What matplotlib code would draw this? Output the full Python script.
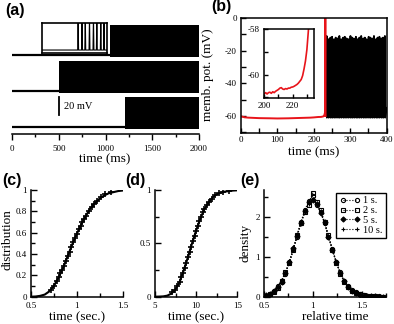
import numpy as np
import matplotlib
matplotlib.use("Agg")
import matplotlib.pyplot as plt
from matplotlib.ticker import MultipleLocator, FixedLocator, FuncFormatter

plt.rcParams['font.family'] = ['Liberation Serif', 'DejaVu Serif']
plt.rcParams['axes.unicode_minus'] = False
plt.rcParams['axes.linewidth'] = 1.1

W, H = 394, 324

# ---- (a) three voltage traces, stacked ----
a_onsets = [1050, 500, 1210]      # ms, start of repetitive firing
a_offsets = [80, 40, 0]           # mV, vertical shift of each trace
a_rest = -62                      # mV
a_top = 33                        # spike tops, mV above rest
a_bottom = -2                     # troughs, mV below rest
a_tmax = 2000
a_xticks = [0, 500, 1000, 1500, 2000]
# zoomed transition shown in the box over trace 1 (box units 0..100)
a_inset_spikes = [56, 62, 67, 73.5, 79.6, 84.8, 90.9, 95.9]
a_inset_rest = 0.1

# ---- (b) membrane potential ----
b_red_t = [0, 10, 20, 50, 80, 100, 130, 160, 190, 200, 212, 220, 226, 228.5, 230.5, 231.5, 232.2]
b_red_v = [-60.2, -60.8, -61.0, -61.3, -61.4, -61.5, -61.4, -61.2, -61.0, -60.85, -60.6,
           -60.55, -60.24, -59.65, -58.0, 0.0, -60.0]
b_spike_t = [235, 240, 245.5, 250, 255, 260, 265.5, 270, 275, 280.5, 285, 290, 295, 300.5,
             305, 310, 315.5, 320, 325, 330, 335.5, 340, 345, 350.5, 355, 360, 365, 370.5,
             375, 380, 385.5, 390, 395]
b_spike_peak = [-11, -13, -12, -11.5, -13, -12, -12.5, -11, -13, -12, -11.5, -12.5, -13, -11,
                -12, -12.5, -11.5, -13, -12, -11, -12.5, -12, -13, -11.5, -12, -12.5, -11, -13,
                -12, -11.5, -12.5, -12, -11]
b_trough = -61
b_reset = -52
# inset: slow depolarisation before the first spike
b_in_t = [200, 201, 202, 203, 204, 205, 206, 207, 208, 209, 210, 211, 212, 213, 214, 215, 216,
          217, 218, 219, 220, 221, 222, 223, 224, 225, 226, 227, 228, 229, 230, 231, 232]
b_in_v = [-60.85, -60.8, -60.86, -60.8, -60.78, -60.83, -60.76, -60.8, -60.74, -60.7, -60.66,
          -60.6, -60.58, -60.64, -60.66, -60.62, -60.64, -60.6, -60.6, -60.56, -60.55, -60.52,
          -60.48, -60.44, -60.38, -60.3, -60.22, -60.05, -59.75, -59.4, -58.9, -58.1, -57.2]

# ---- (c) distribution of first-spike time, 1 s ----
c_line_t = [0.50, 0.55, 0.60, 0.65, 0.70, 0.75, 0.80, 0.85, 0.90, 0.95, 1.00, 1.05, 1.10,
            1.15, 1.20, 1.25, 1.30, 1.35, 1.40, 1.45, 1.50]
c_line_p = [0.0, 0.002, 0.008, 0.02, 0.05, 0.10, 0.18, 0.27, 0.38, 0.49, 0.59, 0.68, 0.76,
            0.83, 0.88, 0.92, 0.95, 0.97, 0.98, 0.99, 0.995]
c_mark_t = [0.72, 0.75, 0.78, 0.80, 0.82, 0.84, 0.86, 0.88, 0.90, 0.92, 0.94, 0.96, 0.98, 1.00,
            1.02, 1.04, 1.06, 1.08, 1.10, 1.13, 1.16, 1.19, 1.22, 1.26, 1.31, 1.37]
c_mark_p = [0.06, 0.10, 0.15, 0.18, 0.22, 0.25, 0.29, 0.33, 0.38, 0.42, 0.47, 0.51, 0.55, 0.59,
            0.63, 0.66, 0.70, 0.73, 0.76, 0.80, 0.84, 0.87, 0.90, 0.93, 0.96, 0.98]

# ---- (d) same, 10 s ----
d_line_t = [5.0, 5.5, 6.0, 6.5, 7.0, 7.5, 8.0, 8.5, 9.0, 9.5, 10.0, 10.5, 11.0, 11.5, 12.0,
            12.5, 13.0, 13.5, 14.0, 14.5, 15.0]
d_line_p = [0.0, 0.001, 0.003, 0.01, 0.03, 0.07, 0.14, 0.25, 0.37, 0.50, 0.62, 0.73, 0.82,
            0.88, 0.93, 0.96, 0.975, 0.985, 0.99, 0.995, 0.997]
d_mark_t = [7.1, 7.4, 7.7, 8.0, 8.2, 8.4, 8.6, 8.8, 9.0, 9.2, 9.4, 9.6, 9.8, 10.0, 10.2, 10.4,
            10.6, 10.8, 11.0, 11.3, 11.6, 11.9, 12.3, 12.8, 13.3, 14.0]
d_mark_p = [0.04, 0.06, 0.10, 0.14, 0.18, 0.22, 0.27, 0.32, 0.37, 0.42, 0.47, 0.52, 0.57, 0.62,
            0.66, 0.71, 0.75, 0.79, 0.82, 0.86, 0.89, 0.92, 0.95, 0.97, 0.98, 0.99]

# ---- (e) density of relative time ----
e_x = [0.52, 0.56, 0.60, 0.64, 0.68, 0.72, 0.76, 0.80, 0.84, 0.88, 0.92, 0.96, 1.00, 1.04,
       1.08, 1.12, 1.16, 1.20, 1.24, 1.28, 1.32, 1.36, 1.40, 1.44, 1.48, 1.52, 1.56, 1.60,
       1.64, 1.68, 1.72]
e_1s = [0.03, 0.07, 0.15, 0.26, 0.37, 0.58, 0.88, 1.20, 1.50, 1.88, 2.18, 2.40, 2.52, 2.30,
        2.12, 1.84, 1.50, 1.20, 0.88, 0.62, 0.40, 0.26, 0.17, 0.11, 0.06, 0.04, 0.03, 0.02,
        0.01, 0.01, 0.00]
e_2s = [0.02, 0.08, 0.13, 0.23, 0.40, 0.62, 0.84, 1.16, 1.55, 1.85, 2.12, 2.30, 2.60, 2.36,
        2.16, 1.88, 1.54, 1.16, 0.85, 0.58, 0.38, 0.25, 0.15, 0.10, 0.07, 0.04, 0.02, 0.02,
        0.01, 0.00, 0.00]
e_5s = [0.04, 0.06, 0.14, 0.24, 0.38, 0.60, 0.86, 1.22, 1.52, 1.84, 2.14, 2.36, 2.42, 2.32,
        2.10, 1.86, 1.50, 1.18, 0.86, 0.60, 0.39, 0.24, 0.14, 0.09, 0.05, 0.03, 0.02, 0.01,
        0.01, 0.00, 0.00]
e_10s = [0.03, 0.08, 0.14, 0.25, 0.41, 0.61, 0.88, 1.17, 1.56, 1.87, 2.15, 2.32, 2.44, 2.34,
         2.14, 1.85, 1.52, 1.19, 0.87, 0.61, 0.39, 0.25, 0.15, 0.09, 0.06, 0.04, 0.02, 0.01,
         0.00, 0.00, 0.00]
e_labels = ['1 s.', '2 s.', '5 s.', '10 s.']
e_markers = ['o', 's', 'D', '+']

TICK = 6.5
LAB = 9.5
fmt = FuncFormatter(lambda v, p: f"{v:g}")


def px_axes(fig, x0, y0, x1, y1):
    # axes from pixel box (left, top, right, bottom)
    return fig.add_axes([x0 / W, 1 - y1 / H, (x1 - x0) / W, (y1 - y0) / H])


def ftext(fig, x, y, s, **kw):
    fig.text(x / W, 1 - y / H, s, ha='center', va='center', **kw)


fig = plt.figure(figsize=(W / 100, H / 100), dpi=100)

# ---------------- (a) ----------------
ax = px_axes(fig, 12, 20, 199, 134)
for on, off in zip(a_onsets, a_offsets):
    base = a_rest + off
    ax.plot([0, on], [base, base], color='black', lw=1.6, solid_capstyle='butt')
    ax.fill_between([on, a_tmax], base + a_bottom, base + a_top, color='black', lw=0)
ax.plot([500, 500], [-49, -29], color='black', lw=1.3)
ax.text(555, -39, '20 mV', fontsize=7.5, va='center', ha='left')
ax.set_xlim(0, a_tmax)
ax.set_ylim(-70, 56.7)
for s in ['left', 'top', 'right']:
    ax.spines[s].set_visible(False)
ax.set_yticks([])
ax.xaxis.set_major_locator(FixedLocator(a_xticks))
ax.xaxis.set_minor_locator(MultipleLocator(250))
ax.tick_params(axis='x', which='major', direction='out', length=4, width=1, labelsize=TICK, pad=4)
ax.tick_params(axis='x', which='minor', direction='out', length=2.5, width=1)

ain = ax.inset_axes([318, 20, 695, 33.3], transform=ax.transData)
xs, vs = [0], [a_inset_rest]
for t in a_inset_spikes:
    xs += [t - 0.7, t, t + 0.7]
    vs += [a_inset_rest, 1.2, a_inset_rest]
xs.append(100)
vs.append(a_inset_rest)
ain.plot(xs, vs, color='black', lw=0.8)
ain.set_xlim(0, 100)
ain.set_ylim(0, 1)
ain.set_xticks([])
ain.set_yticks([])
ain.set_facecolor('white')
for s in ain.spines.values():
    s.set_linewidth(1.2)

# ---------------- (b) ----------------
bx = px_axes(fig, 241, 18, 386.7, 133)
xs, vs = [b_red_t[-1]], [b_red_v[-1]]
for t, p in zip(b_spike_t, b_spike_peak):
    xs += [t - 0.5, t, t + 0.8]
    vs += [b_reset, p, b_trough]
xs.append(400)
vs.append(b_reset - 3)
bx.plot(xs, vs, color='black', lw=1.3)
bx.plot(b_red_t, b_red_v, color='#e8141a', lw=1.4)
bx.set_xlim(0, 400)
bx.set_ylim(-70.4, 0)
bx.xaxis.set_major_locator(MultipleLocator(100))
bx.xaxis.set_minor_locator(MultipleLocator(50))
bx.yaxis.set_major_locator(FixedLocator([-60, -40, -20, 0]))
bx.yaxis.set_minor_locator(FixedLocator([-70, -50, -30, -10]))
bx.tick_params(which='both', direction='in', width=1, labelsize=TICK)
bx.tick_params(which='major', length=3.5)
bx.tick_params(which='minor', length=3.5)
bx.tick_params(axis='x', pad=2.5)
bx.tick_params(axis='y', pad=3)

bin_ = px_axes(fig, 263.5, 29.3, 314, 98.3)
bin_.plot(b_in_t, b_in_v, color='#e8141a', lw=1.2)
bin_.set_xlim(199.5, 235)
bin_.set_ylim(-61.05, -58)
bin_.xaxis.set_major_locator(FixedLocator([200, 210, 220, 230]))
bin_.set_xticklabels(['200', '', '220', ''])
bin_.yaxis.set_major_locator(FixedLocator([-61, -60, -59, -58]))
bin_.set_yticklabels(['', '-60', '', '-58'])
bin_.tick_params(direction='in', length=3, width=1, labelsize=TICK, pad=2.5)
for s in bin_.spines.values():
    s.set_linewidth(1.1)

# ---------------- (c), (d) ----------------
cx = px_axes(fig, 31, 190, 122.7, 296.7)
cx.plot(c_line_t, c_line_p, color='black', lw=1.5)
cx.plot(c_mark_t, c_mark_p, ls='none', marker='+', ms=5, mew=1.2, color='black')
cx.set_xlim(0.5, 1.5)
cx.set_ylim(0, 1)
cx.xaxis.set_major_locator(MultipleLocator(0.5))
cx.xaxis.set_minor_locator(MultipleLocator(0.25))
cx.yaxis.set_major_locator(MultipleLocator(0.2))
cx.yaxis.set_minor_locator(MultipleLocator(0.1))

dx = px_axes(fig, 155, 190, 237.3, 296.7)
dx.plot(d_line_t, d_line_p, color='black', lw=1.5)
dx.plot(d_mark_t, d_mark_p, ls='none', marker='+', ms=5, mew=1.2, color='black')
dx.set_xlim(5, 15)
dx.set_ylim(0, 1)
dx.xaxis.set_major_locator(MultipleLocator(5))
dx.xaxis.set_minor_locator(MultipleLocator(2.5))
dx.yaxis.set_major_locator(MultipleLocator(0.5))
dx.yaxis.set_minor_locator(MultipleLocator(0.25))

# ---------------- (e) ----------------
ex = px_axes(fig, 264, 190, 386, 296.7)
for ys, lab, mk in zip([e_1s, e_2s, e_5s, e_10s], e_labels, e_markers):
    face = 'black' if mk in ('D', '+') else 'none'
    ex.plot(e_x, ys, ls=':', lw=0.8, color='black', marker=mk, ms=3 if mk != 'D' else 2.6,
            mew=0.8, mfc=face, mec='black', label=lab)
ex.set_xlim(0.5, 1.75)
ex.set_ylim(0, 2.67)
ex.xaxis.set_major_locator(MultipleLocator(0.5))
ex.xaxis.set_minor_locator(MultipleLocator(0.25))
ex.yaxis.set_major_locator(MultipleLocator(1))
ex.yaxis.set_minor_locator(MultipleLocator(0.5))
leg = ex.legend(loc='upper right', bbox_to_anchor=(386 / W, 1 - 193 / H),
                bbox_transform=fig.transFigure, fontsize=7.5, numpoints=2, handlelength=2.0,
                handletextpad=0.3, borderpad=0.3, labelspacing=0.05, borderaxespad=0,
                fancybox=False, framealpha=1)
leg.get_frame().set_edgecolor('black')
leg.get_frame().set_linewidth(1.0)

for a in (cx, dx, ex):
    a.spines['top'].set_visible(False)
    a.spines['right'].set_visible(False)
    a.tick_params(which='both', direction='in', width=1, labelsize=TICK)
    a.tick_params(which='major', length=4)
    a.tick_params(which='minor', length=3)
    a.tick_params(axis='x', pad=3.5)
    a.tick_params(axis='y', pad=3)
    a.xaxis.set_major_formatter(fmt)
    a.yaxis.set_major_formatter(fmt)

# axis labels and panel letters
ftext(fig, 105, 159, 'time (ms)', fontsize=LAB)
ftext(fig, 314, 152, 'time (ms)', fontsize=LAB)
ftext(fig, 208, 75, 'memb. pot. (mV)', fontsize=LAB, rotation=90)
ftext(fig, 8, 240, 'distribution', fontsize=LAB, rotation=90)
ftext(fig, 77, 317, 'time (sec.)', fontsize=LAB)
ftext(fig, 196, 317, 'time (sec.)', fontsize=LAB)
ftext(fig, 245, 243, 'density', fontsize=LAB, rotation=90)
ftext(fig, 335, 317, 'relative time', fontsize=LAB)

pan = dict(fontsize=11.5, fontweight='bold', family=['Liberation Sans', 'DejaVu Sans'])
ftext(fig, 15, 10, '(a)', **pan)
ftext(fig, 221, 7, '(b)', **pan)
ftext(fig, 12, 181, '(c)', **pan)
ftext(fig, 135, 181, '(d)', **pan)
ftext(fig, 250, 181, '(e)', **pan)

fig.savefig('out.png', dpi=100)
